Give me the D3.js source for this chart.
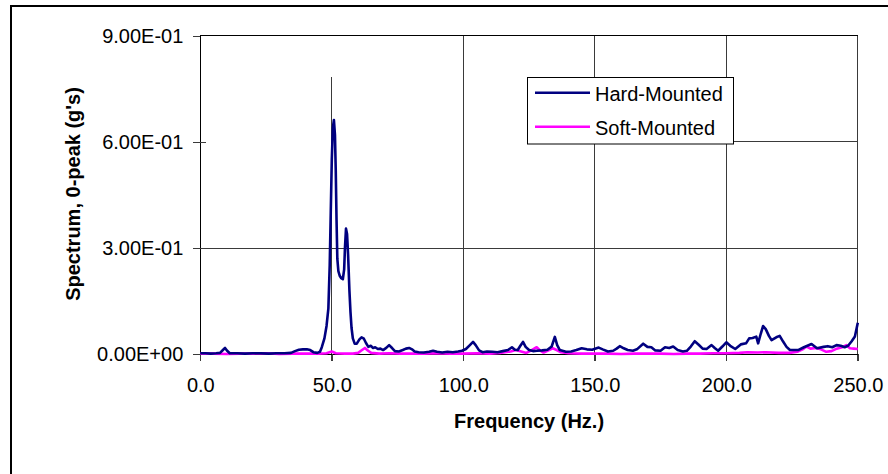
<!DOCTYPE html>
<html>
<head>
<meta charset="utf-8">
<script src="https://cdn.jsdelivr.net/npm/d3@7"></script>
<style>
  html, body { margin: 0; padding: 0; background: #fff; }
  svg { display: block; font-family: Arial, "Liberation Sans", sans-serif; }
</style>
</head>
<body>
<svg id="chart" width="888" height="474"></svg>
<script>
// Hard-mounted accelerometer spectrum: frequency (Hz) and 0-peak amplitude (g's)
const hardFreq = [0,2,4,6,7.5,8.6,9.4,10.2,11.2,14,17,20,23,26,29,32,34.5,36,37.5,39,40.5,41.8,43,44.5,45.5,46.2,47.2,48,48.7,49.2,49.6,50,50.4,50.8,51.2,51.5,51.8,52.1,52.5,53,53.6,54.2,54.7,55,55.4,55.8,56.2,56.7,57.1,57.5,58,58.7,59.5,60.5,61.3,62.2,63,63.9,64.8,65.7,66.5,67.5,68.5,69.5,70.7,71.8,73,74,75.5,77,78.2,79.4,80.5,81.5,83,85,87,88.5,90,92,94,96,98,99.5,101,102.5,103.7,104.7,106,107.3,109,111,113,115,117,118.5,119.6,120.7,121.7,122.7,123.7,125,126.5,128,130,132,133.6,134.8,135.7,136.7,139,141,143,145,147,149,151.5,153,155,157,158.3,159.5,161,162.5,164.5,166,168.4,170,171.5,173,175,176.7,178.3,179.8,181.5,183.5,185,186.5,188,189.5,191,192.5,194.4,195.7,196.9,198.5,200,201.5,203.4,205.5,207.5,208.7,210,211.4,212.1,213.1,214,215,216.2,217.2,219,220.3,221.6,222.9,224.2,227.3,229.5,232.4,234.5,237,238.6,240.3,241.9,243.5,245,246.3,247.6,248.9,250];
const hardAmp = [0.003,0.003,0.002,0.003,0.004,0.012,0.018,0.010,0.003,0.003,0.002,0.003,0.003,0.002,0.003,0.003,0.004,0.009,0.013,0.014,0.014,0.012,0.006,0.004,0.007,0.020,0.045,0.080,0.130,0.250,0.400,0.550,0.640,0.662,0.620,0.520,0.380,0.270,0.235,0.222,0.215,0.212,0.240,0.300,0.355,0.340,0.280,0.180,0.120,0.075,0.045,0.030,0.030,0.042,0.048,0.044,0.032,0.021,0.024,0.018,0.020,0.015,0.016,0.012,0.018,0.026,0.017,0.009,0.008,0.012,0.016,0.018,0.014,0.008,0.006,0.005,0.007,0.010,0.007,0.005,0.007,0.006,0.008,0.010,0.015,0.026,0.035,0.026,0.011,0.006,0.008,0.007,0.006,0.009,0.012,0.020,0.013,0.012,0.024,0.035,0.021,0.012,0.009,0.010,0.011,0.013,0.022,0.049,0.026,0.012,0.007,0.008,0.012,0.017,0.014,0.013,0.019,0.014,0.008,0.010,0.016,0.023,0.017,0.012,0.010,0.014,0.030,0.021,0.020,0.011,0.010,0.020,0.018,0.022,0.012,0.008,0.010,0.022,0.037,0.027,0.016,0.015,0.026,0.017,0.010,0.022,0.034,0.024,0.015,0.028,0.031,0.045,0.046,0.050,0.031,0.058,0.080,0.071,0.052,0.040,0.048,0.052,0.036,0.021,0.012,0.012,0.020,0.029,0.017,0.021,0.023,0.020,0.026,0.024,0.020,0.024,0.036,0.050,0.089];

// Soft-mounted accelerometer spectrum
const softFreq = [0,5,10,15,20,25,30,35,40,45,48,50,51.5,55,58,60,61.5,62.6,63.8,65,68,72,76,80,85,90,95,100,105,110,114,118,120,122,124,126,127.9,129,130.5,132,134,135.5,137,140,145,150,155,160,165,170,175,180,185,190,195,200,205,208,212,215,220,224,227,229,230.5,232,234,236,238,240,242,244,245.7,247,248.5,250];
const softAmp = [0.002,0.002,0.001,0.002,0.002,0.003,0.001,0.002,0.002,0.002,0.003,0.008,0.003,0.002,0.002,0.004,0.012,0.018,0.010,0.004,0.002,0.003,0.002,0.002,0.002,0.003,0.002,0.002,0.003,0.002,0.004,0.008,0.012,0.008,0.004,0.012,0.020,0.012,0.005,0.010,0.017,0.012,0.006,0.003,0.002,0.002,0.002,0.001,0.002,0.002,0.002,0.001,0.002,0.002,0.003,0.003,0.004,0.006,0.005,0.006,0.004,0.004,0.007,0.014,0.022,0.016,0.018,0.014,0.007,0.009,0.016,0.020,0.026,0.017,0.016,0.015];

const seriesNames = ["Hard-Mounted", "Soft-Mounted"];
const seriesColors = ["#000080", "#FF00FF"];

const xTicks = [0, 50, 100, 150, 200, 250];
const yTicks = [0, 0.3, 0.6, 0.9];
const xTitle = "Frequency (Hz.)";
const yTitle = "Spectrum, 0-peak (g's)";

const svg = d3.select("#chart");

const x = d3.scaleLinear().domain([0, 250]).range([200.3, 857.8]);
const y = d3.scaleLinear().domain([0, 0.9]).range([354.3, 35.7]);

// Excel-style scientific labels, e.g. 9.00E-01
const sci = v => {
  const s = v.toExponential(2).toUpperCase();
  return s.replace(/E([+-])(\d)$/, "E$10$2");
};

// outer chart frame
svg.append("rect")
  .attr("x", 11).attr("y", 6).attr("width", 900).attr("height", 500)
  .attr("fill", "none").attr("stroke", "#000").attr("stroke-width", 2);

const grid = svg.append("g").attr("stroke", "#3a3a3a").attr("stroke-width", 1).attr("shape-rendering", "crispEdges");

// legend frame position (in pixels, derived from the scales)
const legendBox = { x: 527.5, y: 77.5, w: 206, h: 66.5 };

// horizontal grid lines
grid.append("line")
  .attr("x1", x(0)).attr("x2", x(250)).attr("y1", y(0.3)).attr("y2", y(0.3));
grid.append("line")
  .attr("x1", legendBox.x + legendBox.w).attr("x2", x(250)).attr("y1", y(0.6)).attr("y2", y(0.6));
grid.append("line")
  .attr("x1", x(0)).attr("x2", x(250)).attr("y1", y(0.9)).attr("y2", y(0.9)).attr("stroke", "#000");

// vertical grid lines
[100, 150, 200, 250].forEach(f => {
  grid.append("line")
    .attr("x1", x(f)).attr("x2", x(f)).attr("y1", y(0.9)).attr("y2", y(0) + 7);
});
grid.append("line")
  .attr("x1", x(50)).attr("x2", x(50)).attr("y1", y(0.783)).attr("y2", y(0) + 7);

// y axis
const yAxis = svg.append("g")
  .attr("transform", `translate(${x(0)},0)`)
  .call(d3.axisLeft(y).tickValues(yTicks).tickFormat(sci).tickSize(7).tickPadding(10));
yAxis.select(".domain").attr("stroke", "#000").attr("shape-rendering", "crispEdges");
yAxis.selectAll(".tick line").attr("stroke", "#3a3a3a").attr("shape-rendering", "crispEdges");
yAxis.selectAll(".tick line").filter(d => d === 0.6 || d === 0.3).attr("x2", 6).attr("x1", -7);
yAxis.selectAll("text").attr("font-size", 20).attr("fill", "#000")
  .attr("font-family", "Arial, 'Liberation Sans', sans-serif");

// x axis
const xAxis = svg.append("g")
  .attr("transform", `translate(0,${y(0)})`)
  .call(d3.axisBottom(x).tickValues(xTicks).tickFormat(d3.format(".1f")).tickSize(7).tickPadding(17));
xAxis.select(".domain").attr("stroke", "#000").attr("shape-rendering", "crispEdges");
xAxis.selectAll(".tick line").attr("stroke", "#3a3a3a").attr("shape-rendering", "crispEdges");
xAxis.selectAll("text").attr("font-size", 20).attr("fill", "#000")
  .attr("font-family", "Arial, 'Liberation Sans', sans-serif");

// spectrum lines
const line = d3.line().x(d => x(d[0])).y(d => y(d[1]));
const softData = d3.zip(softFreq, softAmp);
const hardData = d3.zip(hardFreq, hardAmp);

svg.append("path").datum(softData)
  .attr("d", line).attr("fill", "none")
  .attr("stroke", seriesColors[1]).attr("stroke-width", 2.6).attr("stroke-linejoin", "round");
svg.append("path").datum(hardData)
  .attr("d", line).attr("fill", "none")
  .attr("stroke", seriesColors[0]).attr("stroke-width", 2.6).attr("stroke-linejoin", "round");

// legend
const legend = svg.append("g");
legend.append("rect")
  .attr("x", legendBox.x).attr("y", legendBox.y).attr("width", legendBox.w).attr("height", legendBox.h)
  .attr("fill", "#fff").attr("stroke", "#000").attr("stroke-width", 1);
seriesNames.forEach((name, i) => {
  const ly = 92.7 + i * 34;
  legend.append("line")
    .attr("x1", 535).attr("x2", 590).attr("y1", ly).attr("y2", ly)
    .attr("stroke", seriesColors[i]).attr("stroke-width", 2.6);
  legend.append("text")
    .attr("x", 595).attr("y", ly + 8.5)
    .attr("font-size", 20).attr("fill", "#000")
    .text(name);
});

// axis titles
svg.append("text")
  .attr("x", (x(0) + x(250)) / 2).attr("y", 428)
  .attr("text-anchor", "middle").attr("font-size", 20).attr("font-weight", "bold")
  .text(xTitle);
svg.append("text")
  .attr("transform", `translate(80,${(y(0) + y(0.9)) / 2 - 1}) rotate(-90)`)
  .attr("text-anchor", "middle").attr("font-size", 20).attr("font-weight", "bold")
  .text(yTitle);
</script>
</body>
</html>
